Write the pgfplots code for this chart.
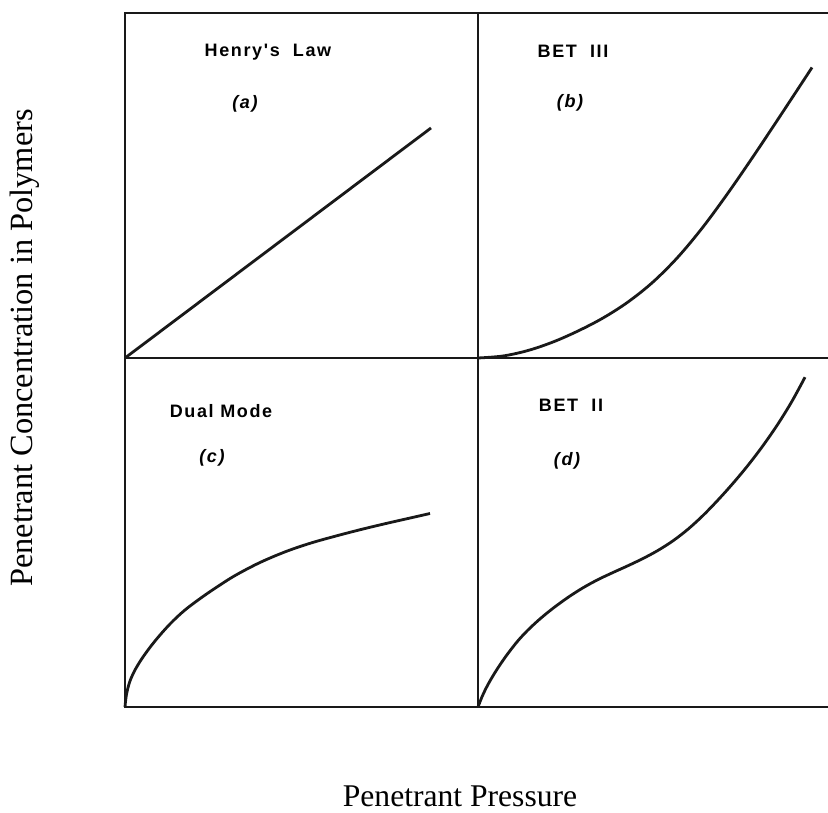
\documentclass[border=0pt]{standalone}
\usepackage{fontspec}
\setmainfont{Liberation Serif}
\newfontfamily\lab[LetterSpace=9]{Liberation Sans}
\usepackage{pgfplots}
\pgfplotsset{compat=1.18}
\pgfplotsset{
  panel/.style={
    scale only axis, anchor=south west,
    xmin=0, xmax=353, ymin=0,
    xtick=\empty, ytick=\empty,
    clip=false,
    axis line style={-, line width=1pt, color=black!90},
    every outer y axis line/.append style={-},
    every outer x axis line/.append style={-},
    y axis line style={-},
    x axis line style={-},
  },
  curve/.style={line width=1.4pt, color=black!90, smooth, tension=0.55, no marks},
}
\newcommand{\plab}[1]{{\lab\bfseries\fontsize{9}{11}\selectfont #1}}
\newcommand{\pit}[1]{{\lab\bfseries\itshape\fontsize{9}{11}\selectfont #1}}
\begin{document}
\begin{tikzpicture}
\useasboundingbox (0,0) rectangle (414pt,406pt);
% (a) Henry's Law
\begin{axis}[panel, at={(62.5pt,227pt)}, width=176.5pt, height=172.5pt, ymax=345]
\addplot[curve] coordinates {(0,0) (306,230)};
\node at (axis cs:143,306) {\plab{Henry's\ \ Law}};
\node at (axis cs:120,254) {\pit{(a)}};
\end{axis}
% (b) BET III
\begin{axis}[panel, at={(239pt,227pt)}, width=176.5pt, height=172.5pt, ymax=345,
  axis x line=box, axis y line=left, y axis line style={-}]
\addplot[curve] coordinates {(0,0) (25,2) (50,7.5) (75,16) (100,27) (125,40) (150,56) (175,76) (200,101) (225,131) (250,165) (275,201.25) (300,238.75) (325,276.75) (334,290.5)};
\node at (axis cs:95,307) {\plab{BET\ \ III}};
\node at (axis cs:92,255) {\pit{(b)}};
\end{axis}
% (c) Dual Mode
\begin{axis}[panel, at={(62.5pt,52.5pt)}, width=176.5pt, height=174.5pt, ymax=349]
\addplot[curve] coordinates {(0,0) (0.8,8) (2.2,16) (5,26) (10,37) (18,50) (30,66) (45,83) (60,97) (78,110.5) (95,122) (111,132) (135,144.5) (161,155.5) (186,164) (211,171) (236,177.5) (261,183.5) (283,188.5) (305,193.5)};
\node at (axis cs:96,296) {\plab{Dual\ Mode}};
\node at (axis cs:87,249) {\pit{(c)}};
\end{axis}
% (d) BET II
\begin{axis}[panel, at={(239pt,52.5pt)}, width=176.5pt, height=174.5pt, ymax=349,
  axis x line=box, axis y line=left, y axis line style={-}]
\addplot[curve] coordinates {(0,0) (4,10.2) (8,18.7) (12,26.1) (17,34.5) (23,43.7) (30,53.6) (40,66.3) (50,77) (62,88.1) (75,98.7) (90,109.6) (105,119.2) (120,127.4) (135,134.5) (150,141.3) (165,148.5) (180,156.6) (195,166.2) (210,177.8) (225,191.5) (240,207) (255,223.7) (270,241.7) (285,261.4) (300,283.1) (314,305.8) (327,329.8)};
\node at (axis cs:93,302) {\plab{BET\ \ II}};
\node at (axis cs:89,246) {\pit{(d)}};
\end{axis}
\node[rotate=90, anchor=base, font=\fontsize{16.2}{19}\selectfont] at (16.5pt,232pt) {Penetrant Concentration in Polymers};
\node[anchor=base, font=\fontsize{15.8}{19}\selectfont] at (230pt,2.5pt) {Penetrant Pressure};
\end{tikzpicture}
\end{document}
